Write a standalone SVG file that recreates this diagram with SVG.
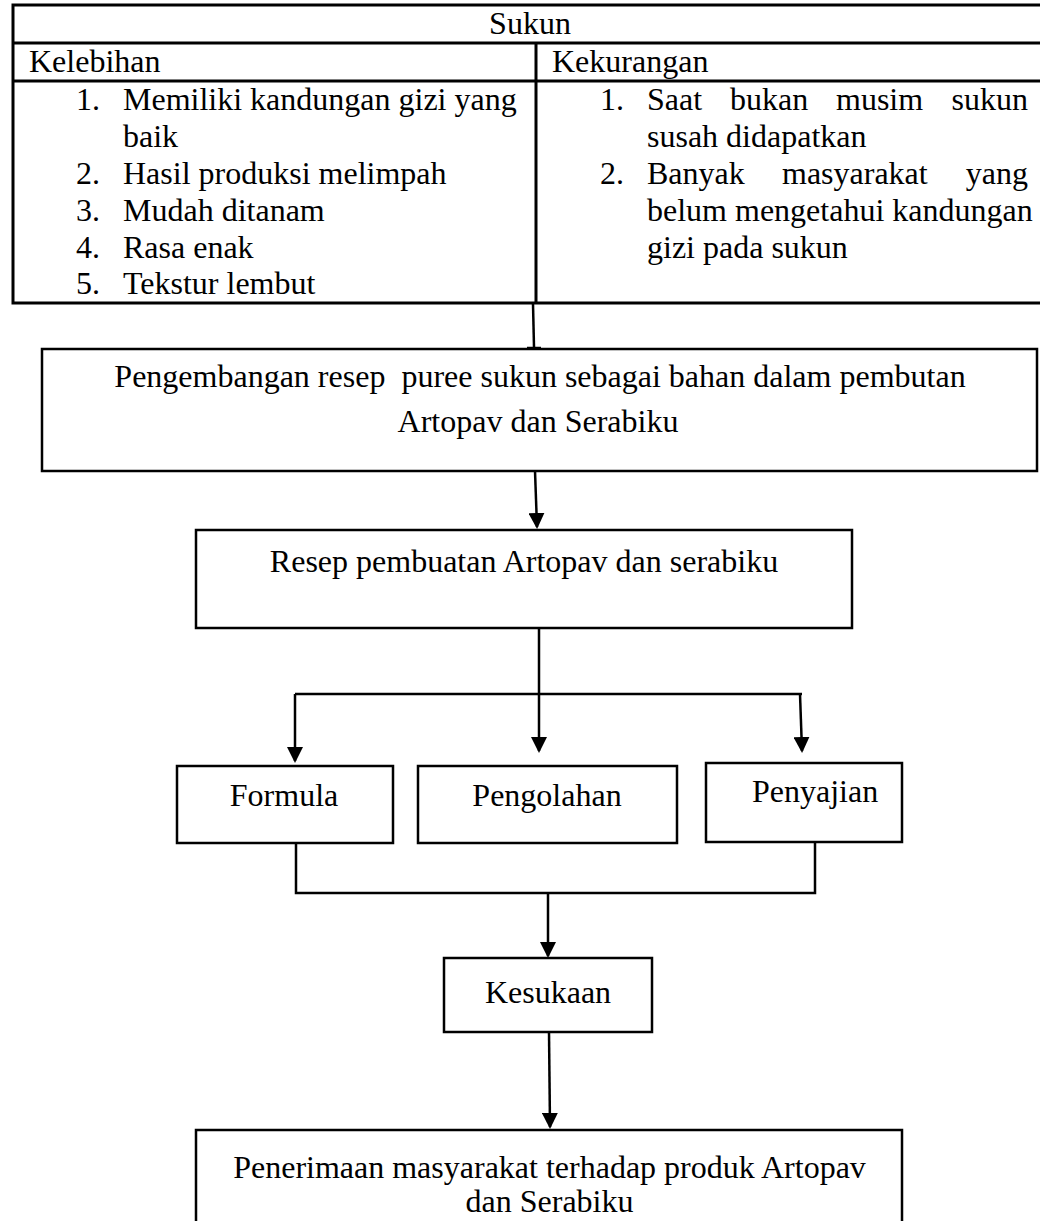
<svg xmlns="http://www.w3.org/2000/svg" width="1040" height="1221" viewBox="0 0 1040 1221">
  <style>
    .t { font-family: "Liberation Serif", "Times New Roman", serif; font-size: 32px; fill: #000; }
    .m { text-anchor: middle; }
    .e { text-anchor: end; }
    .box { fill: #fff; stroke: #000; stroke-width: 2.5; }
    .tbl { fill: none; stroke: #000; stroke-width: 3; }
    .con { fill: none; stroke: #000; stroke-width: 2.5; }
  </style>
  <defs>
    <marker id="arrow" viewBox="0 0 16 16" refX="14" refY="8" markerWidth="16" markerHeight="16" markerUnits="userSpaceOnUse" orient="auto">
      <path d="M0,0 L16,8 L0,16 z" fill="#000"/>
    </marker>
  </defs>
  <rect width="1040" height="1221" fill="#fff"/>

  <!-- Sukun table -->
  <g id="sukun-table">
    <path class="tbl" d="M1050,5 H13 V303 H1050 M13,43 H1050 M13,81 H1050 M536,43 V303"/>
    <text class="t m" x="530" y="34">Sukun</text>
    <text class="t" x="29" y="72">Kelebihan</text>
    <text class="t" x="552" y="72">Kekurangan</text>

    <text class="t" x="76" y="110">1.</text>
    <text class="t" x="123" y="110">Memiliki kandungan gizi yang</text>
    <text class="t" x="123" y="147">baik</text>
    <text class="t" x="76" y="184">2.</text>
    <text class="t" x="123" y="184">Hasil produksi melimpah</text>
    <text class="t" x="76" y="221">3.</text>
    <text class="t" x="123" y="221">Mudah ditanam</text>
    <text class="t" x="76" y="258">4.</text>
    <text class="t" x="123" y="258">Rasa enak</text>
    <text class="t" x="76" y="294">5.</text>
    <text class="t" x="123" y="294">Tekstur lembut</text>

    <text class="t" x="600" y="110">1.</text>
    <text class="t" x="647" y="110">Saat</text>
    <text class="t" x="730" y="110">bukan</text>
    <text class="t" x="836" y="110">musim</text>
    <text class="t e" x="1028" y="110">sukun</text>
    <text class="t" x="647" y="147">susah didapatkan</text>
    <text class="t" x="600" y="184">2.</text>
    <text class="t" x="647" y="184">Banyak</text>
    <text class="t" x="782" y="184">masyarakat</text>
    <text class="t e" x="1028" y="184">yang</text>
    <text class="t" x="647" y="221">belum mengetahui kandungan</text>
    <text class="t" x="647" y="258">gizi pada sukun</text>
  </g>

  <!-- Process boxes -->
  <g id="pengembangan">
    <rect class="box" x="42" y="349" width="995" height="122"/>
    <text class="t m" x="540" y="387" xml:space="preserve">Pengembangan resep  puree sukun sebagai bahan dalam pembutan</text>
    <text class="t m" x="538" y="432">Artopav dan Serabiku</text>
  </g>

  <g id="resep">
    <rect class="box" x="196" y="530" width="656" height="98"/>
    <text class="t m" x="524" y="572">Resep pembuatan Artopav dan serabiku</text>
  </g>

  <g id="formula">
    <rect class="box" x="177" y="766" width="216" height="77"/>
    <text class="t m" x="284" y="806">Formula</text>
  </g>

  <g id="pengolahan">
    <rect class="box" x="418" y="766" width="259" height="77"/>
    <text class="t m" x="547" y="806">Pengolahan</text>
  </g>

  <g id="penyajian">
    <rect class="box" x="706" y="763" width="196" height="79"/>
    <text class="t" x="752" y="802">Penyajian</text>
  </g>

  <g id="kesukaan">
    <rect class="box" x="444" y="958" width="208" height="74"/>
    <text class="t m" x="548" y="1003">Kesukaan</text>
  </g>

  <g id="penerimaan">
    <rect class="box" x="196" y="1130" width="706" height="110"/>
    <text class="t m" x="549.5" y="1178">Penerimaan masyarakat terhadap produk Artopav</text>
    <text class="t m" x="549.5" y="1212">dan Serabiku</text>
  </g>

  <!-- Connectors -->
  <g id="connectors">
    <line class="con" x1="533" y1="304" x2="534" y2="347"/>
    <line class="con" x1="527" y1="348" x2="541" y2="348"/>
    <line class="con" x1="535" y1="471" x2="537" y2="527" marker-end="url(#arrow)"/>
    <line class="con" x1="539" y1="628" x2="539" y2="694"/>
    <line class="con" x1="295" y1="694" x2="802" y2="694"/>
    <line class="con" x1="295" y1="694" x2="295" y2="761" marker-end="url(#arrow)"/>
    <line class="con" x1="539" y1="694" x2="539" y2="751" marker-end="url(#arrow)"/>
    <line class="con" x1="800" y1="694" x2="802" y2="751" marker-end="url(#arrow)"/>
    <polyline class="con" points="296,843 296,893 815,893 815,842"/>
    <line class="con" x1="548" y1="893" x2="548" y2="956" marker-end="url(#arrow)"/>
    <line class="con" x1="549" y1="1032" x2="550" y2="1127" marker-end="url(#arrow)"/>
  </g>
</svg>
